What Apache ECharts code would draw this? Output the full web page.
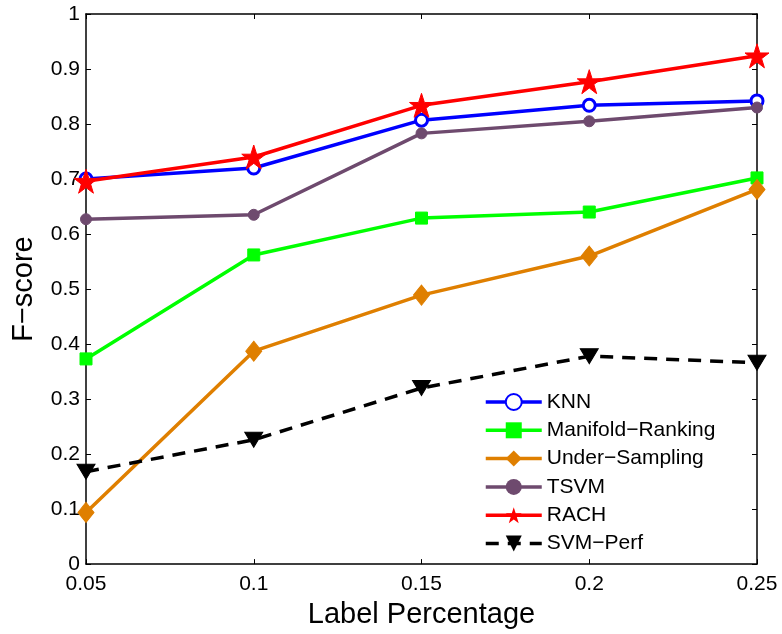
<!DOCTYPE html>
<html><head><meta charset="utf-8">
<script src="https://cdn.jsdelivr.net/npm/echarts@6/dist/echarts.min.js"></script>
<style>html,body{margin:0;padding:0;background:#fff}#c{width:782px;height:634px}</style>
</head><body><div id="c"></div>
<script>
const xValues = [0.05, 0.1, 0.15, 0.2, 0.25];
const knn = [0.700, 0.720, 0.807, 0.834, 0.842];
const manifoldRanking = [0.373, 0.562, 0.629, 0.640, 0.702];
const underSampling = [0.094, 0.387, 0.489, 0.560, 0.681];
const tsvm = [0.627, 0.635, 0.783, 0.805, 0.830];
const rach = [0.696, 0.740, 0.834, 0.877, 0.924];
const svmPerf = [0.168, 0.226, 0.320, 0.378, 0.366];
const seriesNames = ['KNN', 'Manifold\u2212Ranking', 'Under\u2212Sampling', 'TSVM', 'RACH', 'SVM\u2212Perf'];

const FONT = 'Liberation Sans, Arial, Helvetica, sans-serif';
const star = 'path://M50,0 L61.8,35.6 L99,35.6 L68.8,57.6 L80.3,93.2 L50,71.2 L19.7,93.2 L31.2,57.6 L1,35.6 L38.2,35.6 Z';
const pairs = arr => xValues.map((x, i) => [x, arr[i]]);
const fmt = v => String(parseFloat(Number(v).toFixed(2)));

function mk(name, data, color, symbol, size, extra) {
  return Object.assign({
    name, type: 'line', data: pairs(data), symbol, symbolSize: size,
    showAllSymbol: true,
    lineStyle: { color, width: 3.5 },
    itemStyle: { color, borderColor: color },
    z: 2
  }, extra || {});
}

const chart = echarts.init(document.getElementById('c'));
const axisCommon = {
  type: 'value', min: 0.05, max: 0.25, interval: 0.05,
  axisLine: { show: true, onZero: false, lineStyle: { color: '#000', width: 1.5 } },
  axisTick: { show: true, inside: true, length: 5, lineStyle: { color: '#000', width: 1 } },
  splitLine: { show: false }
};
chart.setOption({
  animation: false,
  textStyle: { fontFamily: FONT },
  grid: { left: 86, right: 25, top: 14, bottom: 67 },
  xAxis: [
    Object.assign({}, axisCommon, {
      position: 'bottom',
      name: 'Label Percentage', nameLocation: 'middle', nameGap: 24,
      nameTextStyle: { fontSize: 29, color: '#000', fontFamily: FONT },
      axisLabel: { fontSize: 21, color: '#000', margin: 10, fontFamily: FONT, formatter: fmt }
    }),
    Object.assign({}, axisCommon, {
      position: 'top', axisLabel: { show: false }
    })
  ],
  yAxis: [
    {
      type: 'value', min: 0, max: 1, interval: 0.1, position: 'left',
      name: 'F\u2212score', nameLocation: 'middle', nameGap: 48,
      nameTextStyle: { fontSize: 29, color: '#000', fontFamily: FONT },
      axisLine: { show: true, onZero: false, lineStyle: { color: '#000', width: 1.5 } },
      axisTick: { show: true, inside: true, length: 5, lineStyle: { color: '#000', width: 1 } },
      axisLabel: { fontSize: 21, color: '#000', margin: 6, fontFamily: FONT, formatter: fmt },
      splitLine: { show: false }
    },
    {
      type: 'value', min: 0, max: 1, interval: 0.1, position: 'right',
      axisLine: { show: true, onZero: false, lineStyle: { color: '#000', width: 1.5 } },
      axisTick: { show: true, inside: true, length: 5, lineStyle: { color: '#000', width: 1 } },
      axisLabel: { show: false },
      splitLine: { show: false }
    }
  ],
  legend: {
    orient: 'vertical', left: 479, top: 386, padding: 5,
    itemWidth: 56, itemHeight: 20, itemGap: 6.3,
    lineStyle: { width: 3.5 },
    textStyle: { fontSize: 21, lineHeight: 22, color: '#000', fontFamily: FONT },
    data: seriesNames
  },
  series: [
    mk(seriesNames[0], knn, '#0000ff', 'circle', 12, { itemStyle: { color: '#fff', borderColor: '#0000ff', borderWidth: 3 } }),
    mk(seriesNames[1], manifoldRanking, '#00ff00', 'rect', 12),
    mk(seriesNames[2], underSampling, '#df7f00', 'diamond', [16, 20]),
    mk(seriesNames[3], tsvm, '#6e4a6e', 'circle', 11),
    mk(seriesNames[4], rach, '#ff0000', star, 24),
    mk(seriesNames[5], svmPerf, '#000000', 'triangle', [18, 15], { symbolRotate: 180, lineStyle: { color: '#000', width: 3.5, type: [13, 9] } })
  ]
});
</script></body></html>
